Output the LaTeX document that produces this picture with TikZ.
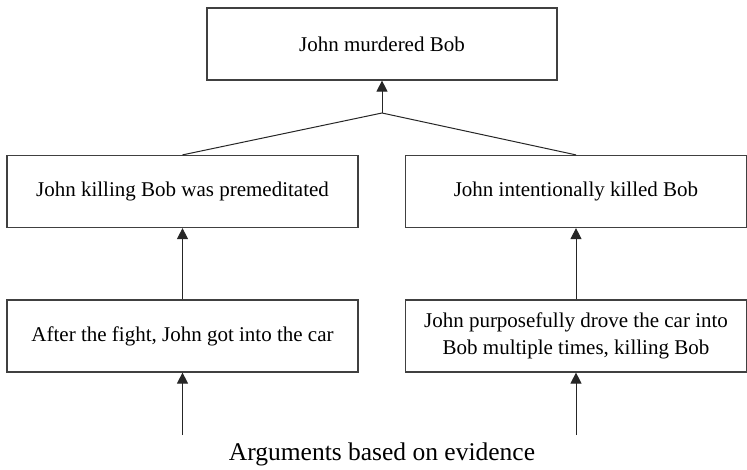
\documentclass[tikz,border=0pt]{standalone}
\usepackage{fontspec}
\setmainfont{Liberation Serif}
\usetikzlibrary{positioning,arrows.meta}

\begin{document}
\begin{tikzpicture}[x=1pt, y=1pt, font=\fontsize{21}{27}\selectfont,
  claim/.style={draw=black!75, line width=1.2pt, align=center, inner sep=2pt, minimum height=72pt, minimum width=351pt},
  sup/.style={-{Triangle[length=11pt,width=11pt]}, line width=1pt, draw=black!85}]
\useasboundingbox (0,0) rectangle (747,-470);
\node[claim, minimum width=350pt] (murder) at (382,-44) {John murdered Bob};
\node[claim] (premed) at (182.5,-191.5) {John killing Bob was premeditated};
\node[claim, minimum width=341pt] (intent) at (576,-191.5) {John intentionally killed Bob};
\node[claim] (fight) at (182.5,-336) {After the fight, John got into the car};
\node[claim, minimum width=341pt] (drove) at (576,-336) {John purposefully drove the car into\\Bob multiple times, killing Bob};
\coordinate (join) at (382,-113);
\draw[line width=1pt, black!85] (premed.north) -- (join) -- (intent.north);
\draw[sup] (join) -- (murder);
\draw[sup] (fight) -- (premed);
\draw[sup] (drove) -- (intent);
% evidence feeding the lowest claims
\node[anchor=base, font=\fontsize{25.5}{30}\selectfont] (evid) at (382,-460) {Arguments based on evidence};
\coordinate (ltail) at (182.5,-435);
\coordinate (rtail) at (576,-435);
\draw[sup] (ltail) -- (fight);
\draw[sup] (rtail) -- (drove);
\end{tikzpicture}
\end{document}
